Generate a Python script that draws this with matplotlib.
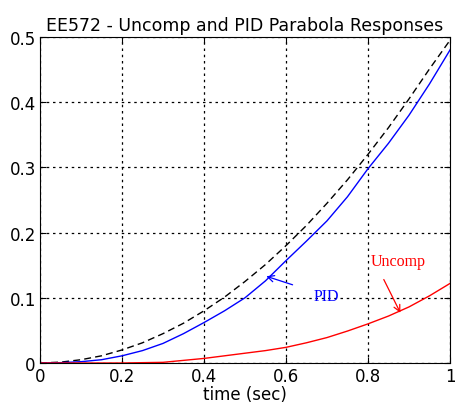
import numpy as np
from matplotlib import pyplot as plt

plt.rcParams["font.family"] = ["DejaVu Sans"]

t = [0.0, 0.05, 0.10, 0.15, 0.20, 0.25, 0.30, 0.35, 0.40, 0.45, 0.50,
     0.55, 0.60, 0.65, 0.70, 0.75, 0.80, 0.85, 0.90, 0.95, 1.0]
parabola = [0.0, 0.0013, 0.005, 0.011, 0.02, 0.031, 0.045, 0.061, 0.08, 0.101, 0.125,
            0.151, 0.18, 0.211, 0.245, 0.281, 0.32, 0.361, 0.405, 0.451, 0.495]
pid = [0.0, 0.0005, 0.002, 0.005, 0.011, 0.019, 0.030, 0.045, 0.062, 0.080, 0.100,
       0.126, 0.157, 0.187, 0.218, 0.255, 0.298, 0.337, 0.380, 0.428, 0.480]
uncomp = [0.0, 0.0, 0.0, 0.0, 0.0, 0.0005, 0.001, 0.004, 0.007, 0.011, 0.015,
          0.019, 0.024, 0.031, 0.039, 0.049, 0.060, 0.072, 0.086, 0.103, 0.122]

xticks = [0, 0.2, 0.4, 0.6, 0.8, 1]
yticks = [0, 0.1, 0.2, 0.3, 0.4, 0.5]

fig = plt.figure(figsize=(4.56, 4.14), dpi=100)
ax = fig.add_axes([0.0877, 0.1208, 0.8991, 0.7874])

ax.plot(t, parabola, color="black", linestyle=(0, (5, 3)), linewidth=1)
ax.plot(t, pid, color="#0000ff", linewidth=1)
ax.plot(t, uncomp, color="#ff0000", linewidth=1)

ax.set_xlim(0, 1)
ax.set_ylim(0, 0.5)
ax.set_xticks(xticks, labels=["0", "0.2", "0.4", "0.6", "0.8", "1"])
ax.set_yticks(yticks, labels=["0", "0.1", "0.2", "0.3", "0.4", "0.5"])
ax.tick_params(direction="in", top=True, right=True, labelsize=12, length=4, pad=3)
ax.grid(True, color="black", linestyle=(0, (2, 3)), linewidth=0.9)
for s in ax.spines.values():
    s.set_linewidth(0.8)

ax.set_title("EE572 - Uncomp and PID Parabola Responses", fontsize=12.5, pad=5)
ax.set_xlabel("time (sec)", fontsize=12, labelpad=0)

ax.annotate("PID", xy=(0.552, 0.133), xytext=(0.668, 0.103),
            color="#0000ff", fontsize=11.5, family="Liberation Serif",
            va="center", ha="left",
            arrowprops=dict(arrowstyle="->", color="#0000ff", lw=0.9,
                            shrinkA=14, shrinkB=0))
ax.annotate("Uncomp", xy=(0.879, 0.077), xytext=(0.806, 0.156),
            color="#ff0000", fontsize=11.5, family="Liberation Serif",
            va="center", ha="left",
            arrowprops=dict(arrowstyle="->", color="#ff0000", lw=0.9,
                            relpos=(0.15, 0), shrinkA=6, shrinkB=0))

fig.savefig("out.png", dpi=100)
